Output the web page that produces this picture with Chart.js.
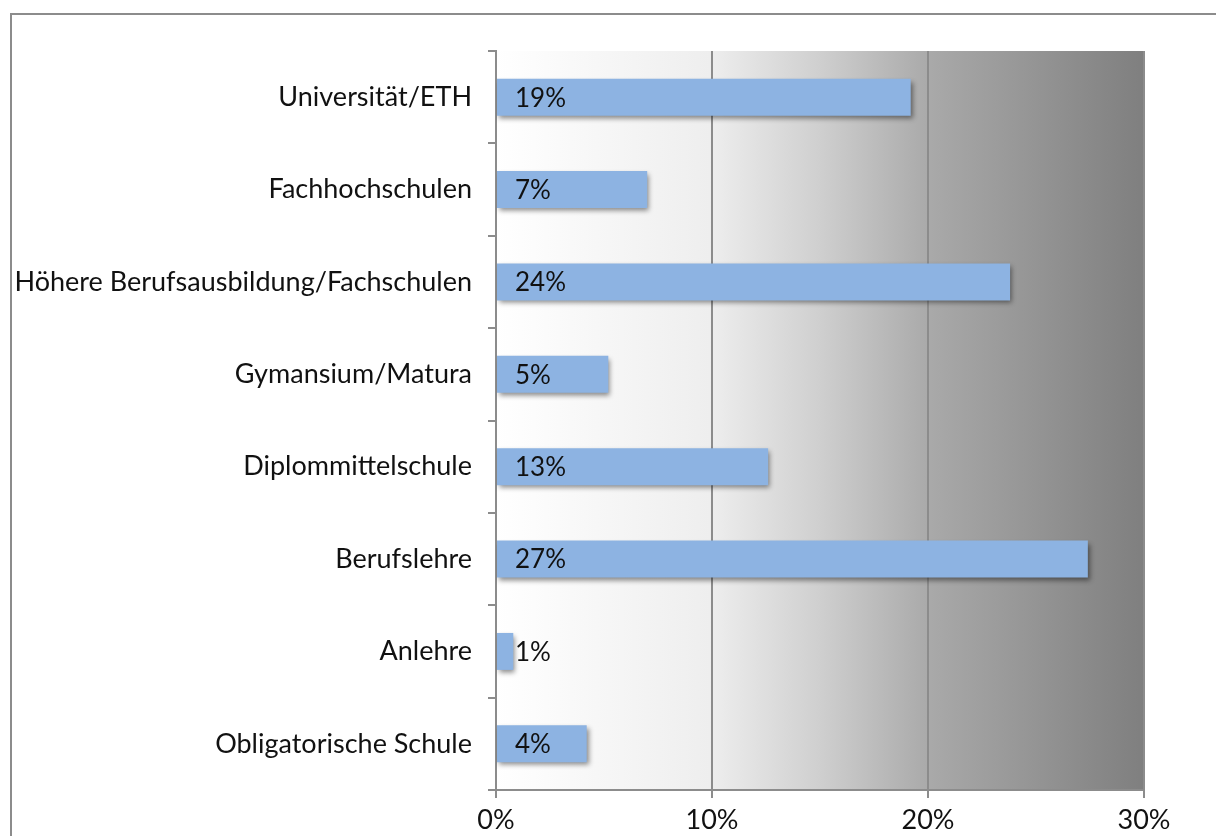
<!DOCTYPE html>
<html>
<head>
<meta charset="utf-8">
<script src="https://cdn.jsdelivr.net/npm/chart.js@4"></script>
<style>
  html, body { margin: 0; padding: 0; background: #fff; overflow: hidden; }
  #wrap { position: relative; width: 1216px; height: 836px; }
  #frame { position: absolute; left: 10px; top: 13px; width: 1300px; height: 900px;
           border: 2px solid #8c8c8c; box-sizing: border-box; }
  #myChart { position: absolute; left: 0; top: 0; }
</style>
</head>
<body>
<div id="wrap">
  <div id="frame"></div>
  <canvas id="myChart" width="1216" height="836"></canvas>
</div>
<script>
const categories = [
    'Universität/ETH',
    'Fachhochschulen',
    'Höhere Berufsausbildung/Fachschulen',
    'Gymansium/Matura',
    'Diplommittelschule',
    'Berufslehre',
    'Anlehre',
    'Obligatorische Schule'
];
const shares = [19.2, 7.0, 23.8, 5.2, 12.6, 27.4, 0.8, 4.2];
const valueLabels = ['19%', '7%', '24%', '5%', '13%', '27%', '1%', '4%'];
const xTicks = [0, 10, 20, 30];

const FONT = 'Lato, "Open Sans", sans-serif';

// gray gradient behind the plot area
const plotBackground = {
    id: 'plotBackground',
    beforeDraw(chart) {
        const {ctx, chartArea: a} = chart;
        const g = ctx.createLinearGradient(a.left, 0, a.right, 0);
        g.addColorStop(0, '#ffffff');
        g.addColorStop(0.33, '#eeeeee');
        g.addColorStop(0.5, '#cfcfcf');
        g.addColorStop(0.67, '#a9a9a9');
        g.addColorStop(1, '#7f7f7f');
        ctx.save();
        ctx.fillStyle = g;
        ctx.fillRect(a.left, a.top, a.right - a.left, a.bottom - a.top);
        ctx.restore();
    }
};

// soft shadow under bars
const barShadow = {
    id: 'barShadow',
    beforeDatasetsDraw(chart) {
        const ctx = chart.ctx;
        ctx.save();
        ctx.shadowColor = 'rgba(0,0,0,0.45)';
        ctx.shadowBlur = 5;
        ctx.shadowOffsetX = 2;
        ctx.shadowOffsetY = 3;
    },
    afterDatasetsDraw(chart) {
        chart.ctx.restore();
    }
};

// percent labels at the start of each bar
const barLabels = {
    id: 'barLabels',
    afterDatasetsDraw(chart) {
        const ctx = chart.ctx;
        const meta = chart.getDatasetMeta(0);
        ctx.save();
        ctx.font = '26px ' + FONT;
        ctx.fillStyle = '#111';
        ctx.textAlign = 'left';
        ctx.textBaseline = 'middle';
        meta.data.forEach((bar, i) => {
            ctx.fillText(valueLabels[i], bar.base + 18, bar.y + 1);
        });
        ctx.restore();
    }
};

const ctx = document.getElementById('myChart').getContext('2d');
const myChart = new Chart(ctx, {
    type: 'bar',
    data: {
        labels: categories,
        datasets: [{
            data: shares,
            backgroundColor: '#8db3e2',
            borderWidth: 0,
            categoryPercentage: 1,
            barPercentage: 0.4
        }]
    },
    options: {
        indexAxis: 'y',
        responsive: false,
        animation: false,
        events: [],
        layout: { padding: { top: 51, right: 72, left: 0, bottom: 0 } },
        plugins: { legend: { display: false }, tooltip: { enabled: false } },
        scales: {
            x: {
                min: 0,
                max: 30,
                afterBuildTicks(scale) {
                    scale.ticks = xTicks.map(v => ({ value: v }));
                },
                afterFit(scale) { scale.height = 46; },
                ticks: {
                    color: '#111',
                    font: { family: FONT, size: 27 },
                    padding: 6,
                    callback: v => v + '%'
                },
                grid: { color: '#8c8c8c', lineWidth: 2, tickLength: 8 },
                border: { display: true, color: '#8c8c8c', width: 2 }
            },
            y: {
                afterFit(scale) { scale.width = 496; },
                ticks: {
                    color: '#111',
                    font: { family: FONT, size: 27 },
                    padding: 16
                },
                grid: { drawOnChartArea: false, color: '#8c8c8c', lineWidth: 2, tickLength: 8 },
                border: { display: true, color: '#8c8c8c', width: 2 }
            }
        }
    },
    plugins: [plotBackground, barShadow, barLabels]
});
</script>
</body>
</html>
